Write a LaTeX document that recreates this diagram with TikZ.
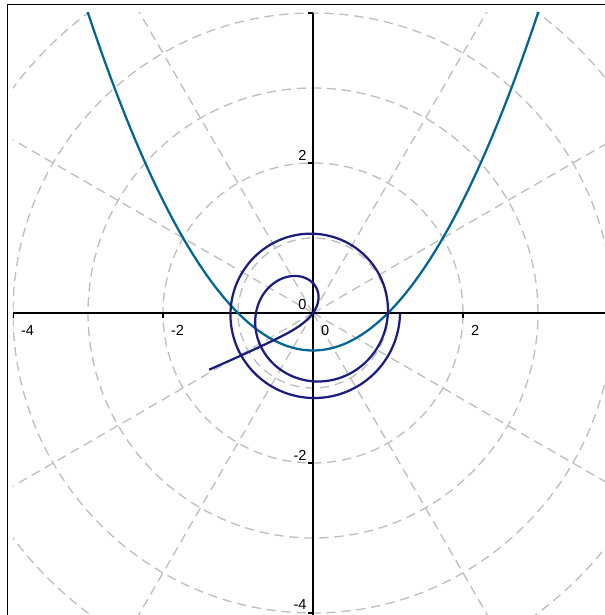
\documentclass[tikz,border=0pt]{standalone}
\usepackage{fontspec}
\setmainfont{Liberation Sans}
\usetikzlibrary{calc}
\definecolor{spiralblue}{RGB}{28,28,128}
\definecolor{parabteal}{RGB}{0,102,145}
\definecolor{gridgray}{RGB}{190,190,190}
\tikzset{
  gridline/.style={
    draw=gridgray,
    line width=0.5pt,
    dash pattern=on 3.5pt off 2.2pt
  },
  axisline/.style={
    draw=black,
    line width=0.6pt
  },
  curveline/.style={
    line width=0.85pt
  },
  ticklabel/.style={
    inner sep=0pt,
    font=\fontsize{5.5}{6.5}\selectfont
  },
  declare function={
    sprad(\t)=1.541-1.339/sqrt(\t-0.2)-0.673*exp(-20.5*(min(\t,1)-0.5));
  }
}

\begin{document}
\begin{tikzpicture}
  \useasboundingbox (-4.1733,-4.0267) rectangle (3.8933,4.1733);
  % frame
  \draw[line width=0.4pt] (-4.076,-4.2) -- (-4.076,4.113) -- (4,4.113);
  \begin{scope}
    \clip (-4,-4.2) rectangle (4,4);
    % polar grid
    \foreach \r in {1,...,6}
      \draw[gridline] (0,0) circle (\r);
    \foreach \a in {0,30,...,330}
      \draw[gridline] (0,0) -- (\a:8);
    % axes
    \draw[axisline] (-4,0) -- (4,0);
    \draw[axisline] (0,-4.2) -- (0,4);
    \foreach \x in {-4,-2,2}
      \draw[axisline] (\x,0) -- ++(0,-0.067);
    \foreach \y in {-4,-2,2,4}
      \draw[axisline] (0,\y) -- ++(-0.067,0);
    % curves
    \draw[curveline,parabteal] plot[domain=-3.05:3.05,samples=120] (\x,{0.5*\x*\x-0.5});
    \draw[curveline,spiralblue] plot[domain=0.5:12.566,samples=500,variable=\t]
      ({sprad(\t)*cos(deg(\t))},{sprad(\t)*sin(deg(\t))});
  \end{scope}
  \foreach \x in {-4,-2,0,2}
    \node[ticklabel,anchor=west] (xlab\x) at (\x+0.1,-0.227) {\x};
  \foreach \y in {-4,-2,0,2}
    \node[ticklabel,anchor=east] (ylab\y) at (-0.08,\y+0.107) {\y};
\end{tikzpicture}
\end{document}
